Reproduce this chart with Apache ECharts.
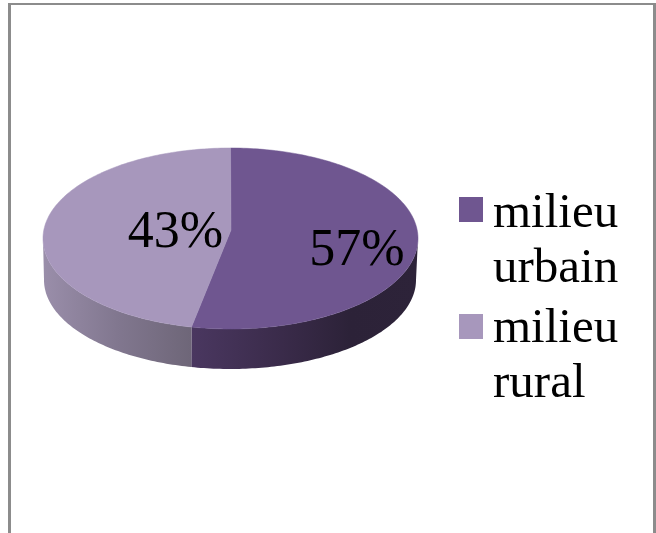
<!DOCTYPE html>
<html>
<head>
<meta charset="utf-8">
<style>html,body{margin:0;padding:0;background:#fff}#c{width:656px;height:533px}</style>
<script src="https://cdn.jsdelivr.net/npm/echarts@6/dist/echarts.min.js"></script>
</head>
<body>
<div id="c"></div>
<script>
var categories = ['milieu urbain', 'milieu rural'];
var values = [57, 43];
var labels = ['57%', '43%'];

var topColors = ['#6f5690', '#a797bc'];
var wallStops = [
  [[0, '#4a3760'], [0.4, '#3a2b4a'], [0.7, '#2c2238'], [1, '#2d2339']],
  [[0, '#9a8eaa'], [0.5, '#81778f'], [1, '#6e6678']]
];
var labelPos = [[357, 251], [175.5, 233]];
var top3d = {cx: 230.5, cy: 238.5, rx: 187.5, ry: 90.5, ax: 231, ay: 230};
var bot3d = {cx: 230, cy: 280, rx: 186, ry: 89};
var tilt = 0.452;
var total = values.reduce(function (a, b) { return a + b; }, 0);

function warp(deg) {
  var r = deg * Math.PI / 180;
  var a = Math.atan2(tilt * Math.sin(r), Math.cos(r)) * 180 / Math.PI;
  if (a < 0) a += 360;
  if (deg >= 360) a = 360;
  return a;
}
function pt(e, deg) {
  var r = deg * Math.PI / 180;
  return [e.cx + e.rx * Math.sin(r), e.cy - e.ry * Math.cos(r)];
}
function arc(e, a, b) {
  var out = [], n = Math.max(2, Math.ceil(Math.abs(b - a)));
  for (var i = 0; i <= n; i++) out.push(pt(e, a + (b - a) * i / n));
  return out;
}
function sliceItem(i) {
  var before = 0;
  for (var j = 0; j < i; j++) before += values[j];
  var a = warp(before / total * 360);
  var b = warp((before + values[i]) / total * 360);
  var children = [];
  var wa = Math.max(a, 90), wb = Math.min(b, 270);
  if (wb > wa) {
    var wall = arc(top3d, wa, wb).concat(arc(bot3d, wb, wa));
    var grad = new echarts.graphic.LinearGradient(0, 0, 1, 0,
      wallStops[i].map(function (s) { return {offset: s[0], color: s[1]}; }));
    children.push({type: 'polygon', shape: {points: wall}, style: {fill: grad}});
  }
  var face = [[top3d.ax, top3d.ay]].concat(arc(top3d, a, b));
  children.push({type: 'polygon', shape: {points: face},
    style: {fill: topColors[i], stroke: topColors[i], lineWidth: 0.5}});
  children.push({type: 'text', z2: 50, style: {
    x: labelPos[i][0], y: labelPos[i][1], text: labels[i], fill: '#000',
    font: '52px "Liberation Serif"', align: 'center', verticalAlign: 'middle'}});
  return {type: 'group', children: children};
}
function icon(offset) {
  var t = 10 + offset, b = 35 + offset;
  return 'path://M0 0L0 0L0 0Z M0 ' + t + 'L24 ' + t + 'L24 ' + b + 'L0 ' + b + 'Z M24 110L24 110L24 110Z';
}

var chart = echarts.init(document.getElementById('c'), null, {renderer: 'canvas'});
chart.setOption({
  animation: false,
  backgroundColor: '#fff',
  legend: {
    orient: 'vertical', left: 459, top: 187, padding: 0, itemWidth: 24, itemHeight: 110, itemGap: 5,
    selectedMode: false,
    data: [{name: categories[0], icon: icon(0)}, {name: categories[1], icon: icon(2)}],
    formatter: function (n) { return n.replace(' ', '\n'); },
    textStyle: {color: '#000', fontFamily: 'Liberation Serif', fontSize: 49, lineHeight: 55, padding: [0, 0, 0, 5]}
  },
  graphic: [
    {type: 'rect', shape: {x: 8, y: 3, width: 3, height: 530}, style: {fill: '#8c8c8c'}, silent: true},
    {type: 'rect', shape: {x: 8, y: 3, width: 648, height: 2}, style: {fill: '#8c8c8c'}, silent: true},
    {type: 'rect', shape: {x: 653, y: 3, width: 3, height: 530}, style: {fill: '#8c8c8c'}, silent: true}
  ],
  series: categories.map(function (name, i) {
    return {
      type: 'custom', name: name, coordinateSystem: 'none',
      itemStyle: {color: topColors[i]},
      data: [values[i]],
      renderItem: function () { return sliceItem(i); }
    };
  })
});
</script>
</body>
</html>
